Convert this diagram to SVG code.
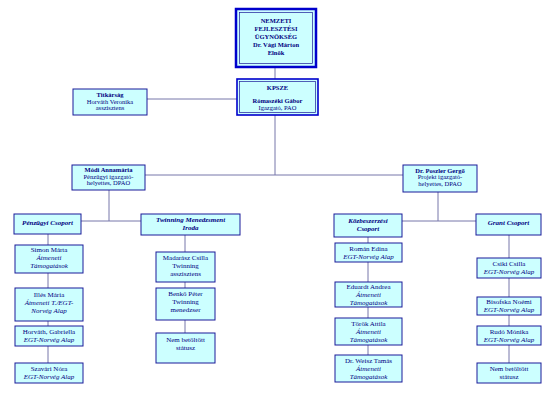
<svg xmlns="http://www.w3.org/2000/svg" width="550" height="400" viewBox="0 0 550 400">
<style>
.bx{fill:#ccffff;stroke:#1a1a99;stroke-width:1}
.in{fill:none;stroke:#1a1a99;stroke-width:0.7}
.ln{stroke:#7777aa;stroke-width:1;fill:none}
text{font-family:"Liberation Serif","Times New Roman",serif;fill:#000080;text-anchor:middle;font-size:6.5px}
.b{font-weight:bold}
.i{font-style:italic}
.bi{font-weight:bold;font-style:italic;font-size:7px}
.p{font-size:7px}
</style>
<rect width="550" height="400" fill="#ffffff"/>
<g id="connectors" class="ln">
<path d="M275 67V79"/>
<path d="M147 99H237"/>
<path d="M275 115V175"/>
<path d="M145 175H403"/>
<path d="M109 190V221"/>
<path d="M81 221H141"/>
<path d="M438 192V221"/>
<path d="M402 221H476"/>
<path d="M48 234V363"/>
<path d="M185 235V333"/>
<path d="M368 237V355"/>
<path d="M509 235V363"/>
</g>
<g id="nfu">
<rect x="236" y="9" width="80" height="58" fill="#ccffff" stroke="#0000cc" stroke-width="2.5"/>
<rect x="239.5" y="12.5" width="73" height="51" class="in"/>
<text class="b" x="276" y="23">NEMZETI</text>
<text class="b" x="276" y="31">FEJLESZTÉSI</text>
<text class="b" x="276" y="39">ÜGYNÖKSÉG</text>
<text class="b" x="276" y="47">Dr. Vági Márton</text>
<text class="b" x="276" y="55">Elnök</text>
</g>
<g id="kpsze">
<rect x="237" y="79" width="81" height="36" fill="#ccffff" stroke="#0000cc" stroke-width="1.6"/>
<rect x="239.5" y="81.5" width="76" height="31" class="in"/>
<text class="b" x="277.5" y="90">KPSZE</text>
<text class="b" x="277.5" y="103">Rómaszéki Gábor</text>
<text x="277.5" y="110">Igazgató, PAO</text>
</g>
<g id="titkarsag">
<rect class="bx" x="73" y="89" width="74" height="26"/>
<text class="b" x="110" y="97">Titkárság</text>
<text x="110" y="103.5">Horváth Veronika</text>
<text x="110" y="110">asszisztens</text>
</g>
<g id="modi">
<rect class="bx" x="72" y="165" width="73" height="25"/>
<text class="b" x="108.5" y="172">Módi Annamária</text>
<text x="108.5" y="178.5">Pénzügyi igazgató-</text>
<text x="108.5" y="185">helyettes, DPAO</text>
</g>
<g id="poszler">
<rect class="bx" x="403" y="165" width="74" height="27"/>
<text class="b" x="440" y="172.5">Dr. Poszler Gergő</text>
<text x="440" y="179">Projekt igazgató-</text>
<text x="440" y="185.5">helyettes, DPAO</text>
</g>
<g id="penzugyi">
<rect class="bx" x="14" y="214" width="67" height="20"/>
<text class="bi" x="47.5" y="224.5">Pénzügyi Csoport</text>
</g>
<g id="twinning">
<rect class="bx" x="141" y="214" width="99" height="21"/>
<text class="bi" x="190.5" y="221.5">Twinning Menedzsment</text>
<text class="bi" x="190.5" y="229.5">Iroda</text>
</g>
<g id="kozbeszerzesi">
<rect class="bx" x="334" y="214" width="68" height="23"/>
<text class="bi" x="368" y="222.5">Közbeszerzési</text>
<text class="bi" x="368" y="230.5">Csoport</text>
</g>
<g id="grant">
<rect class="bx" x="476" y="214" width="65" height="21"/>
<text class="bi" x="508.5" y="224.5">Grant  Csoport</text>
</g>
<g id="simon">
<rect class="bx" x="15" y="245" width="68" height="28"/>
<text class="p" x="49" y="252">Simon Márta</text>
<text class="p i" x="49" y="260">Átmeneti</text>
<text class="p i" x="49" y="268">Támogatások</text>
</g>
<g id="illes">
<rect class="bx" x="15" y="288" width="68" height="33"/>
<text class="p" x="49" y="297">Illés Mária</text>
<text class="p i" x="49" y="305">Átmeneti T./EGT-</text>
<text class="p i" x="49" y="313">Norvég Alap</text>
</g>
<g id="horvath">
<rect class="bx" x="15" y="326" width="68" height="20"/>
<text class="p" x="49" y="334">Horváth, Gabriella</text>
<text class="p i" x="49" y="342">EGT-Norvég Alap</text>
</g>
<g id="szavari">
<rect class="bx" x="15" y="363" width="68" height="20"/>
<text class="p" x="49" y="371">Szavári Nóra</text>
<text class="p i" x="49" y="379">EGT-Norvég Alap</text>
</g>
<g id="madarasz">
<rect class="bx" x="156" y="252" width="59" height="30"/>
<text class="p" x="185.5" y="260">Madarász Csilla</text>
<text class="p" x="185.5" y="268">Twinning</text>
<text class="p" x="185.5" y="276">asszisztens</text>
</g>
<g id="benko">
<rect class="bx" x="156" y="288" width="59" height="32"/>
<text class="p" x="185.5" y="296">Benkő Péter</text>
<text class="p" x="185.5" y="304">Twinning</text>
<text class="p" x="185.5" y="312">menedzser</text>
</g>
<g id="nem1">
<rect class="bx" x="156" y="333" width="59" height="30"/>
<text class="p" x="185.5" y="342">Nem betöltött</text>
<text class="p" x="185.5" y="350">státusz</text>
</g>
<g id="roman">
<rect class="bx" x="335" y="243" width="67" height="19"/>
<text class="p" x="368.5" y="251">Román Edina</text>
<text class="p i" x="368.5" y="259">EGT-Norvég Alap</text>
</g>
<g id="eduardt">
<rect class="bx" x="335" y="282" width="67" height="25"/>
<text class="p" x="368.5" y="289">Eduardt Andrea</text>
<text class="p i" x="368.5" y="297">Átmeneti</text>
<text class="p i" x="368.5" y="305">Támogatások</text>
</g>
<g id="torok">
<rect class="bx" x="335" y="318" width="67" height="27"/>
<text class="p" x="368.5" y="326">Török Attila</text>
<text class="p i" x="368.5" y="334">Átmeneti</text>
<text class="p i" x="368.5" y="342">Támogatások</text>
</g>
<g id="weisz">
<rect class="bx" x="335" y="355" width="67" height="27"/>
<text class="p" x="368.5" y="363">Dr. Weisz Tamás</text>
<text class="p i" x="368.5" y="371">Átmeneti</text>
<text class="p i" x="368.5" y="379">Támogatások</text>
</g>
<g id="csiki">
<rect class="bx" x="477" y="258" width="64" height="20"/>
<text class="p" x="509" y="266">Csiki Csilla</text>
<text class="p i" x="509" y="274">EGT-Norvég Alap</text>
</g>
<g id="bisofska">
<rect class="bx" x="477" y="297" width="64" height="18"/>
<text class="p" x="509" y="304">Bisofska Noémi</text>
<text class="p i" x="509" y="312">EGT-Norvég Alap</text>
</g>
<g id="rudo">
<rect class="bx" x="477" y="326" width="64" height="19"/>
<text class="p" x="509" y="333.5">Rudó Mónika</text>
<text class="p i" x="509" y="341.5">EGT-Norvég Alap</text>
</g>
<g id="nem2">
<rect class="bx" x="477" y="363" width="64" height="20"/>
<text class="p" x="509" y="371">Nem betöltött</text>
<text class="p" x="509" y="379">státusz</text>
</g>
</svg>
